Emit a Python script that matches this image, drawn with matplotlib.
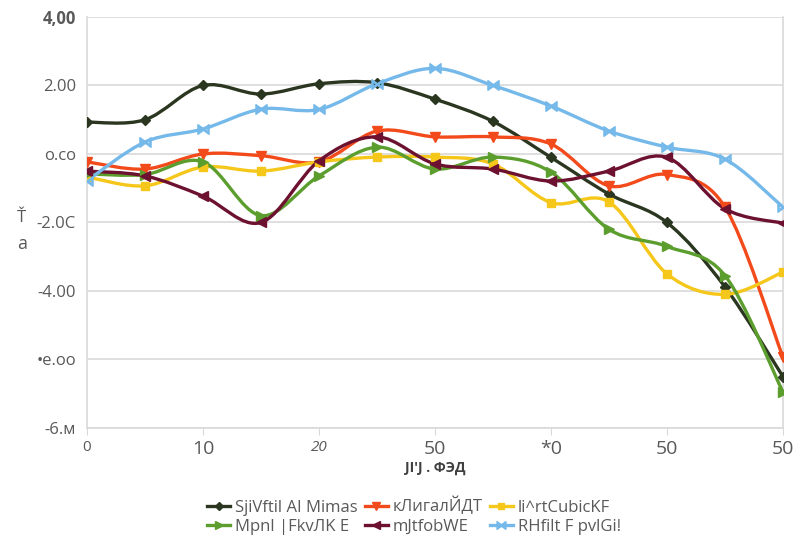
import matplotlib
matplotlib.use('Agg')
import matplotlib.pyplot as plt
from matplotlib.path import Path
from matplotlib.patches import PathPatch
from matplotlib.lines import Line2D
import numpy as np

plt.rcParams['font.family'] = ['Open Sans', 'DejaVu Sans']

# sample positions and series values
x_vals = [0, 5, 10, 15, 20, 25, 30, 35, 40, 45, 50, 55, 60]
s_dark = [0.93, 1.0, 2.0, 1.75, 2.05, 2.08, 1.6, 0.95, -0.1, -1.17, -2.0, -3.88, -6.5]
s_orange = [-0.23, -0.44, 0.0, -0.05, -0.23, 0.67, 0.5, 0.5, 0.29, -0.93, -0.6, -1.55, -5.93]
s_yellow = [-0.67, -0.93, -0.38, -0.5, -0.23, -0.09, -0.09, -0.29, -1.42, -1.4, -3.5, -4.1, -3.45]
s_green = [-0.58, -0.6, -0.23, -1.8, -0.64, 0.2, -0.44, -0.09, -0.53, -2.2, -2.7, -3.55, -6.95]
s_maroon = [-0.5, -0.64, -1.23, -2.0, -0.2, 0.5, -0.29, -0.44, -0.79, -0.5, -0.1, -1.6, -2.02]
s_blue = [-0.78, 0.35, 0.73, 1.31, 1.3, 2.05, 2.5, 2.0, 1.4, 0.67, 0.2, -0.15, -1.55]

labels = ['SjiVftil AI Mimas', 'кЛигалЙДТ', 'li^rtCubicKF',
          'Mpnl |FkvЛK E', 'mJtfobWE', 'RHfilt F pvlGi!']

x_ticks = [0, 10, 20, 30, 40, 50, 60]
x_tick_labels = ['0', '10', '20', '50', '*0', '50', '50']
y_ticks = [4, 2, 0, -2, -4, -6, -8]
y_tick_labels = ['4,00', '2.00', 'o.co', '-2.0C', '-4.00', '•e.oo', '-6.м']

series = [
    (s_dark, '#2b3620', 'D', 5.5),
    (s_orange, '#f24a1a', 'v', 7),
    (s_yellow, '#f5c71a', 's', 6),
    (s_green, '#5c9e2e', '>', 7),
    (s_maroon, '#6d1131', '<', 7),
    (s_blue, '#74b9ea', r'$\bowtie$', 8),
]


def smooth_path(xs, ys):
    # Catmull-Rom style bezier through the points
    pts = np.column_stack([xs, ys]).astype(float)
    n = len(pts)
    verts = [pts[0]]
    codes = [Path.MOVETO]
    for i in range(n - 1):
        p0 = pts[max(i - 1, 0)]
        p1 = pts[i]
        p2 = pts[i + 1]
        p3 = pts[min(i + 2, n - 1)]
        c1 = p1 + (p2 - p0) / 6.0
        c2 = p2 - (p3 - p1) / 6.0
        verts += [c1, c2, p2]
        codes += [Path.CURVE4] * 3
    return Path(verts, codes)


fig = plt.figure(figsize=(8.08, 5.48), dpi=100)
ax = fig.add_axes([0.1077, 0.219, 0.8613, 0.750])

handles = []
for ys, color, marker, ms in series:
    patch = PathPatch(smooth_path(x_vals, ys), facecolor='none', edgecolor=color,
                      lw=2.4, capstyle='round', joinstyle='round', zorder=3)
    ax.add_patch(patch)
    ax.plot(x_vals, ys, ls='none', marker=marker, color=color, ms=ms, zorder=4)
    handles.append(Line2D([], [], color=color, lw=2.4, marker=marker, ms=ms * 0.8))

ax.set_xlim(0, 60)
ax.set_ylim(-8, 4)

ax.set_yticks(y_ticks)
ax.set_yticklabels(y_tick_labels, fontsize=12, color='#595959')
ax.yaxis.get_ticklabels()[0].set_fontweight('bold')
ax.set_xticks(x_ticks)
ax.set_xticklabels(x_tick_labels, fontsize=14, color='#595959')
ax.xaxis.get_ticklabels()[2].set_fontstyle('italic')
ax.xaxis.get_ticklabels()[2].set_fontsize(11)
ax.xaxis.get_ticklabels()[0].set_fontsize(11)
ax.tick_params(axis='y', length=0, pad=8)
ax.tick_params(axis='x', length=5, color='#d9d9d9', pad=4)

ax.grid(True, axis='y', color='#d9d9d9', lw=1.2)
ax.set_axisbelow(True)
ax.spines['top'].set_visible(False)
for side in ['left', 'right', 'bottom']:
    ax.spines[side].set_color('#d9d9d9')
    ax.spines[side].set_linewidth(1.2)

ax.set_xlabel("JI'J . ФЭД", fontsize=10, fontweight='bold', color='#404040', labelpad=2)

fig.text(0.027, 0.595, 'Ť', fontsize=12, color='#595959', ha='center')
fig.text(0.027, 0.545, 'a', fontsize=13, color='#595959', ha='center')

# row-major order for the three-column legend
order = [0, 3, 1, 4, 2, 5]
ax.legend([handles[i] for i in order], [labels[i] for i in order],
          loc='upper center', bbox_to_anchor=(0.47, -0.14), ncol=3, frameon=False,
          fontsize=12, handlelength=1.4, handletextpad=0.3, columnspacing=0.4,
          labelspacing=0.2, labelcolor='#595959', borderpad=0.2)

fig.savefig('out.png', dpi=100, facecolor='white')
